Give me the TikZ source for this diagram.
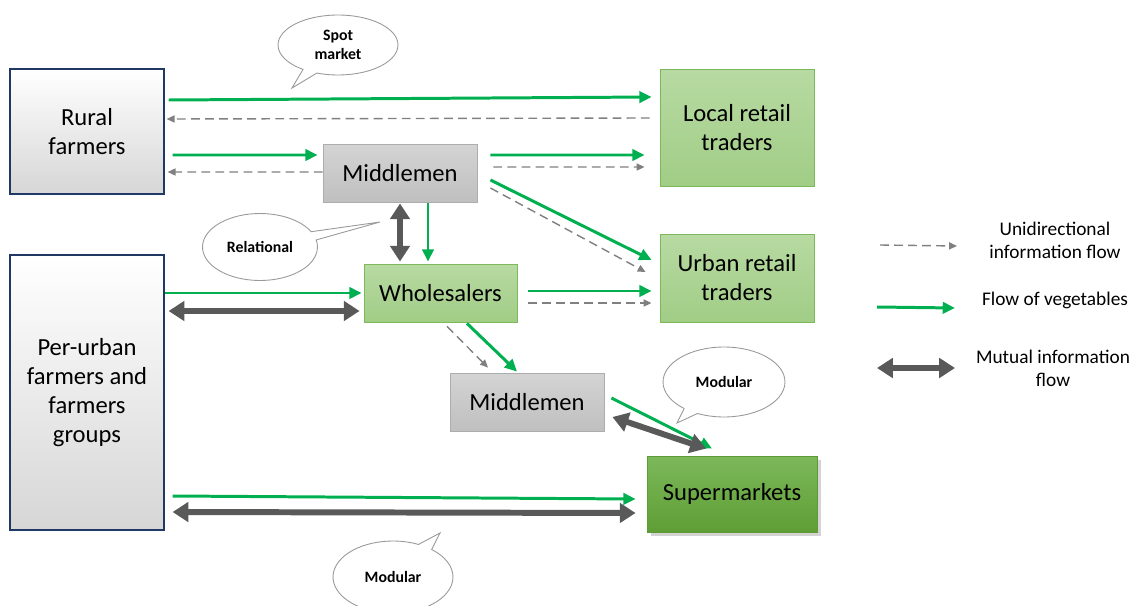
\documentclass[tikz,border=0pt]{standalone}
\usepackage{fontspec}
\setmainfont{Carlito}
\usetikzlibrary{arrows.meta,shapes.callouts,shadows,calc}
\definecolor{vgreen}{HTML}{00B050}
\definecolor{dgray}{HTML}{595959}
\definecolor{mgray}{HTML}{808080}
\definecolor{navy}{HTML}{1F3864}
\definecolor{bordgreen}{HTML}{7DB85A}
\definecolor{rtop}{HTML}{B7DAA2}
\definecolor{rbot}{HTML}{A1CD86}
\definecolor{sbord}{HTML}{5E9B36}
\definecolor{stop}{HTML}{7CB85A}
\definecolor{sbot}{HTML}{5E9E35}
\begin{document}
\begin{tikzpicture}[x=0.02cm,y=-0.02cm,
  farmbox/.style={draw=navy, line width=0.7pt, top color=white, bottom color=black!16, minimum width=3.08cm, align=center, font=\fontsize{14}{16.5}\selectfont},
  retailbox/.style={draw=bordgreen, line width=0.5pt, top color=rtop, bottom color=rbot, align=center, font=\fontsize{14}{16.5}\selectfont},
  midbox/.style={draw=black!32, line width=0.5pt, top color=black!17, bottom color=black!25, align=center, font=\fontsize{14}{16.5}\selectfont},
  superbox/.style={draw=sbord, line width=0.5pt, top color=stop, bottom color=sbot, align=center, font=\fontsize{14}{16.5}\selectfont, drop shadow={shadow xshift=2pt, shadow yshift=-2pt, opacity=0.35}},
  bubble/.style={ellipse callout, draw=black!40, line width=0.5pt, fill=white, align=center, font=\fontsize{9}{11}\selectfont\bfseries},
  veg/.style={draw=vgreen, line width=1.7pt, -{Triangle[length=7pt,width=6.5pt]}},
  info/.style={draw=mgray, line width=0.8pt, dash pattern=on 5pt off 3pt, -{Triangle[length=4.5pt,width=4pt]}},
  mutual/.style={draw=dgray, line width=3.4pt, {Triangle[length=9pt,width=11pt]}-{Triangle[length=9pt,width=11pt]}},
  legtext/.style={align=center, font=\fontsize{11}{13}\selectfont}
]
\useasboundingbox (0,0) rectangle (1132,605);

% boxes
\node[farmbox, minimum height=2.5cm] (rural) at (87,131.5) {Rural\\farmers};
\node[farmbox, minimum height=5.5cm] (peri) at (87,392.5) {Per-urban\\farmers and\\farmers\\groups};
\node[retailbox, minimum width=3.08cm, minimum height=2.34cm] (local) at (737,127.5) {Local retail\\traders};
\node[midbox, minimum width=3.08cm, minimum height=1.16cm] (mid1) at (400,173) {Middlemen};
\node[retailbox, minimum width=3.06cm, minimum height=1.16cm] (whole) at (440.5,293) {Wholesalers};
\node[retailbox, minimum width=3.08cm, minimum height=1.76cm] (urban) at (737,278) {Urban retail\\traders};
\node[midbox, minimum width=3.08cm, minimum height=1.16cm] (mid2) at (527,402) {Middlemen};
\node[superbox, minimum width=3.4cm, minimum height=1.52cm] (super) at (732,494) {Supermarkets};

% bubbles
\node[bubble, minimum width=2.4cm, minimum height=1.2cm, callout absolute pointer={(292,88)}] (spot) at (338,45) {Spot\\market};
\node[bubble, minimum width=2.3cm, minimum height=1.34cm, callout absolute pointer={(380,222)}] (rel) at (260,247) {Relational};
\node[bubble, minimum width=2.44cm, minimum height=1.4cm, callout absolute pointer={(677,423)}] (mod1) at (724,382) {Modular};
\node[bubble, minimum width=2.4cm, minimum height=1.44cm, callout absolute pointer={(440,533)}] (mod2) at (393,577) {Modular};

% flows
\draw[veg] ($(rural.east)+(4,-31.5)$) -- ($(local.west)+(-8,-30.5)$);
\draw[info] ($(local.west)+(-10,-9.5)$) -- ($(rural.east)+(2,-12.5)$);
\draw[veg] ($(rural.east)+(8,23.5)$) -- ($(mid1.west)+(-5,-18)$);
\draw[info] ($(mid1.west)+(0,-1)$) -- ($(rural.east)+(3,40.5)$);
\draw[veg] ($(mid1.east)+(13,-18)$) -- ($(local.west)+(-15,27.5)$);
\draw[info] ($(mid1.east)+(16,-6)$) -- ($(local.west)+(-15,39.5)$);
\draw[veg] ($(mid1.east)+(13,7)$) -- ($(urban.west)+(-8,-18)$);
\draw[info] ($(mid1.east)+(13,15)$) -- ($(urban.west)+(-14,-6)$);
\draw[mutual] ($(mid1.south)+(0,1)$) -- ($(whole.north)+(-40.5,-2)$);
\draw[veg] ($(mid1.south)+(28,1)$) -- ($(whole.north)+(-12.5,-2)$);
\draw[veg] ($(peri.east)+(0,-99.5)$) -- ($(whole.west)+(-2,0)$);
\draw[mutual] ($(peri.east)+(4,-81.5)$) -- ($(whole.west)+(-4,18)$);
\draw[veg] ($(whole.east)+(10.5,-2)$) -- ($(urban.west)+(-8,13)$);
\draw[info] ($(whole.east)+(10.5,10)$) -- ($(urban.west)+(-8,25)$);
\draw[info] ($(whole.south)+(6.5,4)$) -- ($(mid2.north)+(-39,-5)$);
\draw[veg] ($(whole.south)+(26.5,1)$) -- ($(mid2.north)+(-10,-1)$);
\draw[veg] ($(mid2.east)+(7,-4)$) -- ($(super.north)+(-20,-7)$);
\draw[mutual] ($(mid2.east)+(8,15)$) -- ($(super.north)+(-26,-7)$);
\draw[veg] ($(peri.east)+(8,103.5)$) -- ($(super.west)+(-11,5)$);
\draw[mutual] ($(peri.east)+(8,119.5)$) -- ($(super.west)+(-11,19)$);

% legend
\coordinate (l1a) at (880,245); \coordinate (l1b) at (957,246);
\coordinate (l2a) at (877,307); \coordinate (l2b) at (955,308);
\coordinate (l3a) at (877,368); \coordinate (l3b) at (955,368);
\draw[info] (l1a) -- (l1b);
\draw[veg] (l2a) -- (l2b);
\draw[mutual] (l3a) -- (l3b);
\node[legtext] (t1) at (1055,240) {Unidirectional\\information flow};
\node[legtext] (t2) at (1055,300) {Flow of vegetables};
\node[legtext] (t3) at (1053,368) {Mutual information\\flow};
\end{tikzpicture}
\end{document}
